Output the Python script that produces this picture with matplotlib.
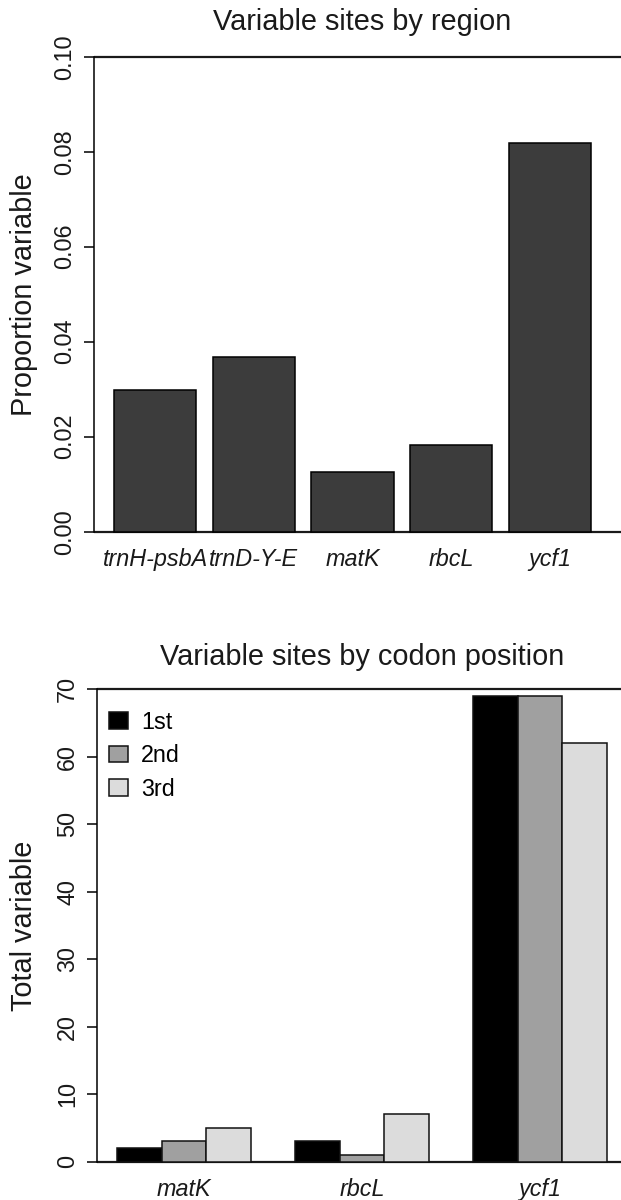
import numpy as np
import matplotlib
matplotlib.use("Agg")
import matplotlib.pyplot as plt

plt.rcParams['font.family'] = ['Liberation Sans', 'DejaVu Sans']

# data
regions = ['trnH-psbA', 'trnD-Y-E', 'matK', 'rbcL', 'ycf1']
prop_variable = [0.0298, 0.0368, 0.0125, 0.0183, 0.0819]

genes = ['matK', 'rbcL', 'ycf1']
codon_labels = ['1st', '2nd', '3rd']
first_pos = [2, 3, 69]
second_pos = [3, 1, 69]
third_pos = [5, 7, 62]

top_ticks = [0.00, 0.02, 0.04, 0.06, 0.08, 0.10]
bottom_ticks = [0, 10, 20, 30, 40, 50, 60, 70]

W, H = 621, 1200
fig = plt.figure(figsize=(W / 100, H / 100), dpi=100)

tick_fs = 16.8
lab_fs = 20.8


def style_axis(ax, ticks, fmt):
    for s in ['top', 'right', 'bottom']:
        ax.spines[s].set_visible(False)
    ax.spines['left'].set_linewidth(1.1)
    ax.spines['left'].set_bounds(ticks[0], ticks[-1])
    ax.set_yticks(ticks)
    ax.set_yticklabels([fmt(t) for t in ticks], rotation=90, va='center',
                       fontsize=tick_fs, color='#1a1a1a')
    ax.tick_params(axis='y', length=7.2, width=1.1, pad=6)
    ax.tick_params(axis='x', length=0, pad=-2)
    ax.axhline(ticks[0], color='#1a1a1a', lw=1.6, zorder=0)
    ax.axhline(ticks[-1], color='#1a1a1a', lw=1.6, zorder=0)


# ---- top panel: proportion variable by region ----
ax1 = fig.add_axes([94.3 / W, 1 - 550.7 / H, 532.7 / W, 513.0 / H])
x1 = 0.2 + 1.2 * np.arange(len(regions)) + 0.5
ax1.bar(x1, prop_variable, width=1.0, color='#3c3c3c', edgecolor='black', lw=1.1, zorder=2)
ax1.set_xlim(-0.04, 6.44)
ax1.set_ylim(-0.004, 0.104)
style_axis(ax1, top_ticks, lambda t: f'{t:.2f}')
ax1.set_xticks(x1)
ax1.set_xticklabels(regions, style='italic', fontsize=tick_fs, color='#1a1a1a')
ax1.set_ylabel('Proportion variable', fontsize=lab_fs, color='#1a1a1a')
ax1.yaxis.label.set_va('center')
ax1.yaxis.set_label_coords((24 - 94.3) / 532.7, 0.5)
fig.text(362 / W, 1 - 30 / H, 'Variable sites by region', ha='center', va='baseline',
         fontsize=lab_fs, color='#1a1a1a')

# ---- bottom panel: total variable by codon position ----
ax2 = fig.add_axes([97.4 / W, 1 - 1180.6 / H, 529.2 / W, 510.3 / H])
centers = 1 + 4 * np.arange(len(genes))
colors = ['black', '#a0a0a0', '#dcdcdc']
for j, (vals, c, lab) in enumerate(zip([first_pos, second_pos, third_pos], colors, codon_labels)):
    ax2.bar(centers + j + 0.5, vals, width=1.0, color=c, edgecolor='#111111', lw=1.1,
            label=lab, zorder=2)
ax2.set_xlim(0.56, 12.44)
ax2.set_ylim(-2.8, 72.8)
style_axis(ax2, bottom_ticks, lambda t: f'{t:d}')
ax2.set_xticks(centers + 1.5)
ax2.set_xticklabels(genes, style='italic', fontsize=tick_fs, color='#1a1a1a')
ax2.set_ylabel('Total variable', fontsize=lab_fs, color='#1a1a1a')
ax2.yaxis.label.set_va('center')
ax2.yaxis.set_label_coords((24 - 97.4) / 529.2, 0.5)
ax2.legend(loc='upper left', bbox_to_anchor=(-0.017, 0.962), frameon=False, fontsize=tick_fs,
           handlelength=0.8, handleheight=0.72, handletextpad=0.55, labelspacing=0.45,
           borderaxespad=0.5)
fig.text(362 / W, 1 - 665 / H, 'Variable sites by codon position', ha='center', va='baseline',
         fontsize=lab_fs, color='#1a1a1a')

fig.savefig('out.png', dpi=100)
